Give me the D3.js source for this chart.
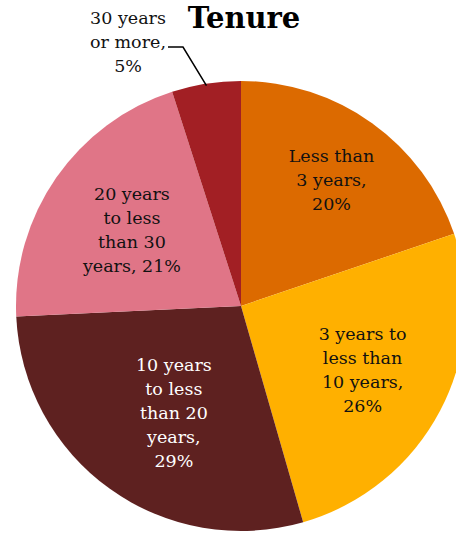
<!DOCTYPE html>
<html>
<head>
<meta charset="utf-8">
<script src="https://cdn.jsdelivr.net/npm/d3@7/dist/d3.min.js"></script>
<style>
  html, body { margin: 0; padding: 0; background: #fff; }
  svg { display: block; }
  text { font-family: "DejaVu Serif", "Liberation Serif", serif; }
</style>
</head>
<body>
<svg id="chart" width="456" height="533"></svg>
<script>
// Tenure distribution
const categories = [
  "Less than 3 years",
  "3 years to less than 10 years",
  "10 years to less than 20 years",
  "20 years to less than 30 years",
  "30 years or more"
];
const shares = [20, 26, 29, 21, 5];
const labelLines = [
  ["Less than", "3 years,", "20%"],
  ["3 years to", "less than", "10 years,", "26%"],
  ["10 years", "to less", "than 20", "years,", "29%"],
  ["20 years", "to less", "than 30", "years, 21%"],
  ["30 years", "or more,", "5%"]
];
const colors = ["#DC6A00", "#FFB000", "#5E2120", "#E07587", "#A21F24"];
const textColors = ["#111", "#111", "#fff", "#111", "#111"];

const cx = 241, cy = 306, R = 225;

const svg = d3.select("#chart");

const pie = d3.pie().sort(null).value(d => d.value);
const data = categories.map((c, i) => ({ cat: c, value: shares[i], i }));
const arcs = pie(data);

const arc = d3.arc().innerRadius(0).outerRadius(R);

const g = svg.append("g").attr("transform", `translate(${cx},${cy})`);

g.selectAll("path.slice")
  .data(arcs)
  .join("path")
  .attr("class", "slice")
  .attr("d", arc)
  .attr("fill", d => colors[d.data.i]);

// inside labels: placed along each slice's bisector at a fraction of the radius
const labelRadius = [0.69, 0.61, 0.56, 0.59];
const labelAngleShift = [0, 0, -0.06, 0];
const lineH = 24;
const fontSize = 17.5;

arcs.slice(0, 4).forEach((a, k) => {
  const mid = (a.startAngle + a.endAngle) / 2 + labelAngleShift[k];
  const r = R * labelRadius[k];
  const x = Math.sin(mid) * r;
  const y = -Math.cos(mid) * r;
  const lines = labelLines[k];
  const t = g.append("text")
    .attr("text-anchor", "middle")
    .attr("font-size", fontSize)
    .attr("fill", textColors[k]);
  lines.forEach((ln, j) => {
    t.append("tspan")
      .attr("x", x)
      .attr("y", y + (j - (lines.length - 1) / 2) * lineH)
      .attr("dy", "0.35em")
      .text(ln);
  });
});

// outside label for the smallest slice, with a leader line
{
  const a = arcs[4];
  const mid = (a.startAngle + a.endAngle) / 2;
  const ex = Math.sin(mid) * (R - 2), ey = -Math.cos(mid) * (R - 2);
  const elbowX = -58, elbowY = -259;
  g.append("path")
    .attr("d", `M${ex},${ey}L${elbowX},${elbowY}L${elbowX - 15},${elbowY}`)
    .attr("fill", "none")
    .attr("stroke", "#000")
    .attr("stroke-width", 1.5);
  const lines = labelLines[4];
  const lx = -113, ly0 = -288;
  const t = g.append("text")
    .attr("text-anchor", "middle")
    .attr("font-size", fontSize)
    .attr("fill", textColors[4]);
  lines.forEach((ln, j) => {
    t.append("tspan")
      .attr("x", lx)
      .attr("y", ly0 + j * lineH)
      .attr("dy", "0.35em")
      .text(ln);
  });
}

// title
svg.append("text")
  .attr("x", 244)
  .attr("y", 28)
  .attr("text-anchor", "middle")
  .attr("font-size", 29)
  .attr("font-weight", "bold")
  .attr("fill", "#000")
  .text("Tenure");
</script>
</body>
</html>
